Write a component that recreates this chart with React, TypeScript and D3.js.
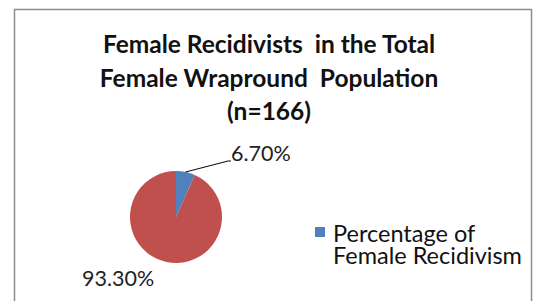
import React from 'react';
import * as d3 from 'd3';

const categories = ['Percentage of Female Recidivism', 'Other'];
const values = [6.7, 93.3];
const valueLabels = ['6.70%', '93.30%'];
const colors = ['#4F81BD', '#C0504D'];
const titleLines = ['Female Recidivists  in the Total', 'Female Wrapround  Population', '(n=166)'];
const legendLines = ['Percentage of', 'Female Recidivism'];

function App() {
    const width = 533;
    const height = 301;
    const cx = 176;
    const cy = 217;
    const radius = 46;
    const font = 'Lato, "Open Sans", sans-serif';

    const pie = d3.pie<number>().sort(null).value(d => d);
    const arcs = pie(values);
    const arc = d3.arc<d3.PieArcDatum<number>>().innerRadius(0).outerRadius(radius);

    // leader line for the small slice
    const blue = arcs[0];
    const mid = (blue.startAngle + blue.endAngle) / 2;
    const edge: [number, number] = [Math.sin(mid) * radius, -Math.cos(mid) * radius];
    const labelX = cx + 55;
    const labelY = cy - 56;

    return (
        <div style={{position: 'fixed', left: 0, top: 0}}>
            <svg width={width} height={height} style={{display: 'block', background: '#fff'}}>
                <rect x={14.5} y={9.5} width={517} height={320} fill="#fff" stroke="#8c8c8c" strokeWidth={1.5}/>
                <g fontFamily={font} fontWeight="bold" fontSize={24.5} fill="#111" textAnchor="middle">
                    {titleLines.map((t, i) => (
                        <text key={i} x={269} y={53 + i * 33.5} style={{whiteSpace: 'pre'}}>{t}</text>
                    ))}
                </g>
                <g transform={`translate(${cx},${cy})`}>
                    {arcs.map((a, i) => (
                        <path key={categories[i]} d={arc(a) || ''} fill={colors[i]}/>
                    ))}
                </g>
                <polyline
                    points={`${cx + edge[0]},${cy + edge[1]} ${labelX - 3},${labelY} ${labelX},${labelY}`}
                    fill="none" stroke="#111" strokeWidth={1.2}/>
                <g fontFamily={font} fontSize={21.5} fill="#222">
                    <text x={labelX} y={labelY}>{valueLabels[0]}</text>
                    <text x={82} y={286}>{valueLabels[1]}</text>
                </g>
                <rect x={315} y={227} width={10} height={10} fill={colors[0]}/>
                <text fontFamily={font} fontSize={23.5} fill="#111">
                    {legendLines.map((t, i) => (
                        <tspan key={i} x={333} y={242 + i * 21.5}>{t}</tspan>
                    ))}
                </text>
            </svg>
        </div>
    );
}

export default App;
